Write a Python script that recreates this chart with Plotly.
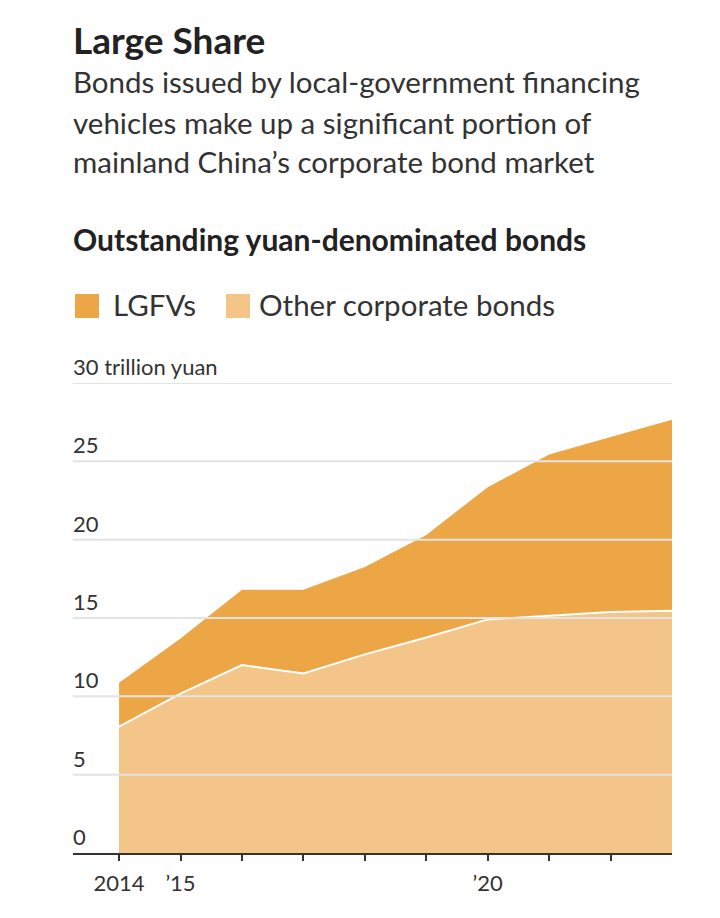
import plotly.graph_objects as go

years = [2014, 2015, 2016, 2017, 2018, 2019, 2020, 2021, 2022, 2023]
other_bonds = [8.07, 10.17, 12.0, 11.46, 12.68, 13.76, 14.91, 15.15, 15.39, 15.47]
lgfv_bonds = [2.79, 3.52, 4.80, 5.34, 5.58, 6.54, 8.44, 10.28, 11.16, 12.19]
y_ticks = [0, 5, 10, 15, 20, 25, 30]
y_tick_labels = ["0", "5", "10", "15", "20", "25", "30 trillion yuan"]
x_tick_vals = [2014, 2015, 2016, 2017, 2018, 2019, 2020, 2021, 2022]
x_tick_text = ["2014", "’15", "", "", "", "", "’20", "", ""]

W, H = 720, 918
L, R, T, B = 73, 48, 383, 65
ph = H - T - B

def py(Y):
    return (H - B - Y) / ph

def px(X):
    return (X - L) / (W - L - R)

FONT = "Lato"
C_LGFV = "#eda646"
C_OTHER = "#f4c589"
TXT = "#333333"

total = [o + l for o, l in zip(other_bonds, lgfv_bonds)]

fig = go.Figure()
fig.add_trace(go.Scatter(x=years, y=total, mode="lines", fill="tozeroy",
                         fillcolor=C_LGFV, line=dict(width=0, color=C_LGFV),
                         hoverinfo="skip", showlegend=False))
fig.add_trace(go.Scatter(x=years, y=other_bonds, mode="lines", fill="tozeroy",
                         fillcolor=C_OTHER, line=dict(width=2, color="white"),
                         hoverinfo="skip", showlegend=False))

shapes = []
annotations = []
for v, lab in zip(y_ticks, y_tick_labels):
    if v != 0:
        shapes.append(dict(type="line", xref="paper", yref="y", x0=0, x1=1, y0=v, y1=v,
                           line=dict(color="#e3e3e3", width=2), layer="above"))
    annotations.append(dict(text=lab, xref="paper", yref="y", x=0, y=v, xanchor="left",
                            yanchor="bottom", showarrow=False, yshift=1, xshift=-2,
                            font=dict(family=FONT, size=22, color=TXT)))

# Titles
annotations.append(dict(text="<b>Large Share</b>", xref="paper", yref="paper", x=px(73), y=py(40),
                        xanchor="left", yanchor="middle", showarrow=False, xshift=-2,
                        font=dict(family=FONT, size=37, color="#222222")))
sub = ["Bonds issued by local-government financing",
       "vehicles make up a significant portion of",
       "mainland China’s corporate bond market"]
for i, s in enumerate(sub):
    annotations.append(dict(text=s, xref="paper", yref="paper", x=px(73), y=py(82 + 40 * i),
                            xanchor="left", yanchor="middle", showarrow=False, xshift=-2,
                            font=dict(family=FONT, size=29.5, color=TXT)))
annotations.append(dict(text="<b>Outstanding yuan-denominated bonds</b>", xref="paper", yref="paper",
                        x=px(73), y=py(239), xanchor="left", yanchor="middle", showarrow=False,
                        xshift=-2, font=dict(family=FONT, size=30, color="#222222")))
# Legend
leg = [("LGFVs", C_LGFV, 75, 111), ("Other corporate bonds", C_OTHER, 226, 257)]
for name, col, sx, tx in leg:
    shapes.append(dict(type="rect", xref="paper", yref="paper", x0=px(sx), x1=px(sx + 24),
                       y0=py(318), y1=py(294), fillcolor=col, line=dict(width=0)))
    annotations.append(dict(text=name, xref="paper", yref="paper", x=px(tx), y=py(304),
                            xanchor="left", yanchor="middle", showarrow=False,
                            font=dict(family=FONT, size=29.5, color=TXT)))

fig.update_layout(
    width=W, height=H, margin=dict(l=L, r=R, t=T, b=B),
    paper_bgcolor="white", plot_bgcolor="white",
    shapes=shapes, annotations=annotations, showlegend=False,
    xaxis=dict(range=[2013.25, 2023], tickvals=x_tick_vals, ticktext=x_tick_text,
               ticks="outside", ticklen=6, tickwidth=2, tickcolor=TXT, ticklabelstandoff=4,
               showgrid=False, zeroline=False, showline=True, linecolor=TXT, linewidth=2,
               tickfont=dict(family=FONT, size=22, color=TXT), fixedrange=True),
    yaxis=dict(range=[0, 30], showticklabels=False, showgrid=False, zeroline=False,
               showline=False, ticks="", fixedrange=True),
)

fig.write_html("out.html")
